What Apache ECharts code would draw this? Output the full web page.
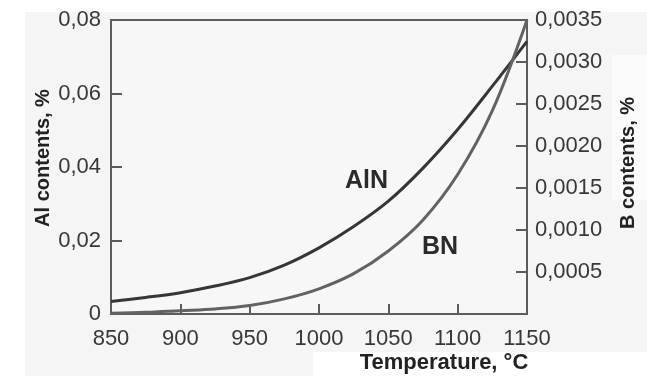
<!DOCTYPE html>
<html>
<head>
<meta charset="utf-8">
<script src="https://cdn.jsdelivr.net/npm/echarts@6/dist/echarts.min.js"></script>
<style>
  html, body { margin: 0; padding: 0; background: #ffffff; }
  #chart { width: 652px; height: 376px; }
</style>
</head>
<body>
<div id="chart"></div>
<script>
// Solubility of AlN and BN versus temperature
const temperatures = [850, 875, 900, 925, 950, 975, 1000, 1025, 1050, 1075, 1100, 1125, 1150];
const alContent = [0.0034, 0.0045, 0.0058, 0.0076, 0.0099, 0.0133, 0.0180, 0.0238, 0.0307, 0.0397, 0.0502, 0.0620, 0.0742];
const bContent = [0.00001, 0.00002, 0.00004, 0.00006, 0.00010, 0.00018, 0.00030, 0.00048, 0.00075, 0.00112, 0.00166, 0.00242, 0.00350];
const xTicks = { min: 850, max: 1150, step: 50 };
const alTicks = { min: 0, max: 0.08, step: 0.02 };
const bTicks = { min: 0, max: 0.0035, step: 0.0005 };

const FONT = "'Liberation Sans', Arial, Helvetica, sans-serif";
const AXIS_COLOR = '#5c5c5c';
const PANEL = '#f5f5f5';

const chart = echarts.init(document.getElementById('chart'), null, { renderer: 'canvas' });

const commaNum = (v, digits) => v === 0 ? '0' : v.toFixed(digits).replace('.', ',');

chart.setOption({
  backgroundColor: '#ffffff',
  animation: false,
  grid: {
    left: 111, right: 125, top: 20, bottom: 62,
    show: true, borderColor: AXIS_COLOR, borderWidth: 2, backgroundColor: '#f7f7f7'
  },
  xAxis: {
    type: 'value', min: xTicks.min, max: xTicks.max, interval: xTicks.step,
    axisLine: { lineStyle: { color: AXIS_COLOR, width: 2 } },
    axisTick: { inside: true, length: 10, lineStyle: { color: AXIS_COLOR, width: 2 } },
    axisLabel: { margin: 14, fontFamily: FONT, fontSize: 22, color: '#383838',
      formatter: v => String(v) },
    splitLine: { show: false }
  },
  yAxis: [
    {
      type: 'value', position: 'left', min: alTicks.min, max: alTicks.max, interval: alTicks.step,
      axisLine: { show: true, lineStyle: { color: AXIS_COLOR, width: 2 } },
      axisTick: { show: true, inside: true, length: 11, lineStyle: { color: AXIS_COLOR, width: 2 } },
      axisLabel: { margin: 10, fontFamily: FONT, fontSize: 22, color: '#383838',
        formatter: v => commaNum(v, 2) },
      splitLine: { show: false }
    },
    {
      type: 'value', position: 'right', min: bTicks.min, max: bTicks.max, interval: bTicks.step,
      axisLine: { show: true, lineStyle: { color: AXIS_COLOR, width: 2 } },
      axisTick: { show: true, inside: true, length: 11, lineStyle: { color: AXIS_COLOR, width: 2 } },
      axisLabel: { margin: 8, fontFamily: FONT, fontSize: 22, color: '#383838',
        formatter: v => v === 0 ? '' : commaNum(v, 4) },
      splitLine: { show: false }
    }
  ],
  series: [
    {
      name: 'AlN', type: 'line', yAxisIndex: 0, smooth: 0.35, symbol: 'none',
      lineStyle: { color: '#363636', width: 3 },
      data: temperatures.map((t, i) => [t, alContent[i]])
    },
    {
      name: 'BN', type: 'line', yAxisIndex: 1, smooth: 0.35, symbol: 'none',
      lineStyle: { color: '#626262', width: 3 },
      data: temperatures.map((t, i) => [t, bContent[i]])
    }
  ],
  graphic: [
    // light panel behind the figure, with paler boxes behind two titles
    { type: 'rect', z: -10, silent: true, shape: { x: 25, y: 12, width: 622, height: 364 }, style: { fill: PANEL } },
    { type: 'rect', z: -9, silent: true, shape: { x: 313, y: 352, width: 334, height: 24 }, style: { fill: '#ffffff' } },
    { type: 'rect', z: -9, silent: true, shape: { x: 612, y: 55, width: 35, height: 145 }, style: { fill: '#fbfbfb' } },
    { type: 'text', left: 345, top: 169,
      style: { text: 'AlN', font: "bold 25px " + FONT, fill: '#2a2a2a' } },
    { type: 'text', left: 422, top: 235,
      style: { text: 'BN', font: "bold 25px " + FONT, fill: '#2a2a2a' } },
    { type: 'text', x: 444, y: 363,
      style: { text: 'Temperature, °C', font: "bold 22px " + FONT, fill: '#222',
        textAlign: 'center', textVerticalAlign: 'middle' } },
    { type: 'text', x: 43, y: 158, rotation: Math.PI / 2,
      style: { text: 'Al contents, %', font: "bold 20px " + FONT, fill: '#222',
        textAlign: 'center', textVerticalAlign: 'middle' } },
    { type: 'text', x: 628, y: 163, rotation: Math.PI / 2,
      style: { text: 'B contents, %', font: "bold 20px " + FONT, fill: '#222',
        textAlign: 'center', textVerticalAlign: 'middle' } }
  ]
});
</script>
</body>
</html>
